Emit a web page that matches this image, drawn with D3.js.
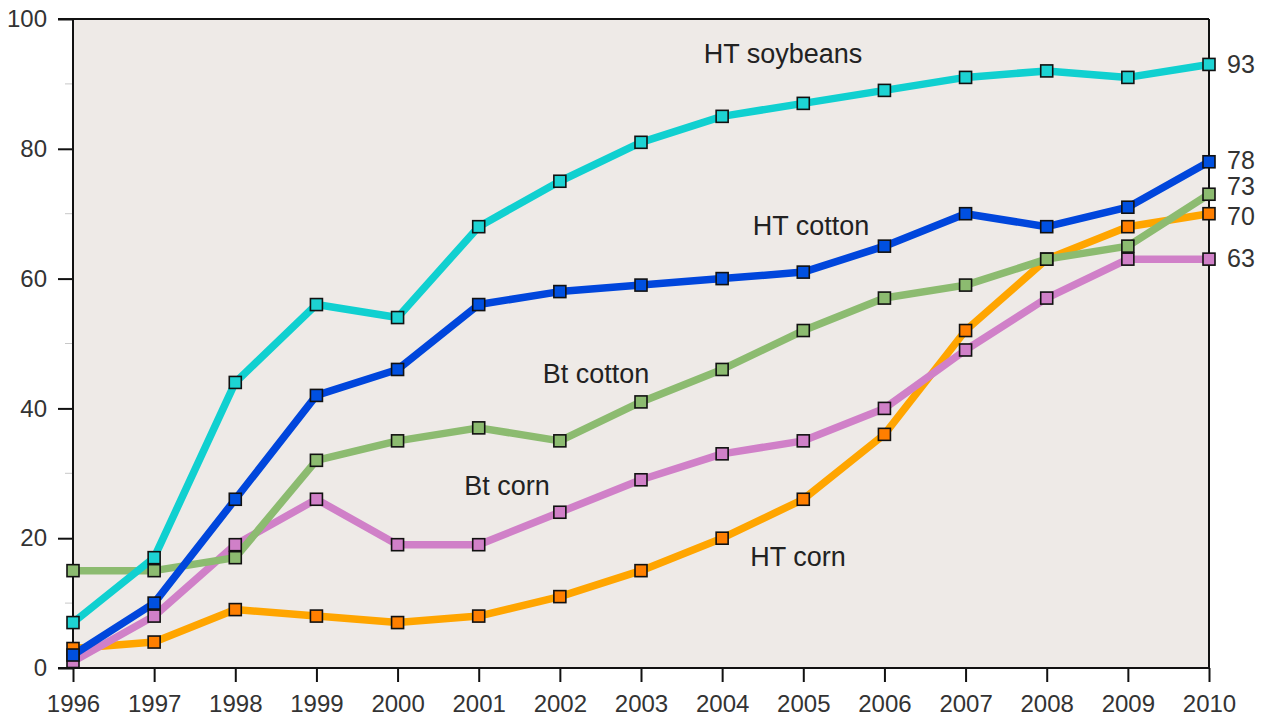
<!DOCTYPE html>
<html><head><meta charset="utf-8">
<script src="https://cdn.jsdelivr.net/npm/d3@7"></script>
<style>body{margin:0;background:#fff;} text{font-family:"Liberation Sans",Arial,sans-serif;}</style>
</head><body><svg id="c" width="1266" height="717"></svg>
<script>
const years = [1996,1997,1998,1999,2000,2001,2002,2003,2004,2005,2006,2007,2008,2009,2010];
const htCorn     = [3,4,9,8,7,8,11,15,20,26,36,52,63,68,70];
const btCorn     = [1,8,19,26,19,19,24,29,33,35,40,49,57,63,63];
const btCotton   = [15,15,17,32,35,37,35,41,46,52,57,59,63,65,73];
const htCotton   = [2,10,26,42,46,56,58,59,60,61,65,70,68,71,78];
const htSoybeans = [7,17,44,56,54,68,75,81,85,87,89,91,92,91,93];
const seriesNames = ["HT corn","Bt corn","Bt cotton","HT cotton","HT soybeans"];
const lineColors = ["#ffa500","#d080c8","#8cbb70","#0046dc","#10d0d0"];
const markColors = ["#ff7f00","#d080c8","#8cbb70","#0050e0","#1dd3d3"];
const yTicks = [0,20,40,60,80,100];
const yMinor = [10,30,50,70,90];
const labelPos = [[798,559],[507,488],[596,376],[811,228],[783,56]];

const svg = d3.select("#c");
const x = d3.scaleLinear().domain([1996,2010]).range([73,1209]);
const y = d3.scaleLinear().domain([0,100]).range([668,19]);
const data = [htCorn,btCorn,btCotton,htCotton,htSoybeans];

svg.append("rect").attr("x",73).attr("y",19).attr("width",1136).attr("height",649).attr("fill","#eeeae7");

svg.selectAll(".mn").data(yMinor).join("line").attr("x1",65).attr("x2",73)
  .attr("y1",d=>y(d)).attr("y2",d=>y(d)).attr("stroke","#c8c8c8").attr("stroke-width",1);

const yAxis = svg.append("g").attr("transform","translate(73,0)")
  .call(d3.axisLeft(y).tickValues(yTicks).tickSize(15).tickPadding(11));
yAxis.select(".domain").remove();
yAxis.selectAll("line").attr("stroke","#111").attr("stroke-width",2);
yAxis.selectAll("text").attr("font-size",24).attr("fill","#333").attr("font-family","Liberation Sans, Arial, sans-serif");

const xAxis = svg.append("g").attr("transform","translate(0,668)")
  .call(d3.axisBottom(x).tickValues(years).tickFormat(d3.format("d")).tickSize(14).tickPadding(13));
xAxis.select(".domain").remove();
xAxis.selectAll("line").attr("stroke","#111").attr("stroke-width",2);
xAxis.selectAll("text").attr("font-size",24).attr("fill","#333").attr("font-family","Liberation Sans, Arial, sans-serif");

svg.append("line").attr("x1",58).attr("x2",1209).attr("y1",19).attr("y2",19).attr("stroke","#111").attr("stroke-width",2);
svg.append("line").attr("x1",58).attr("x2",1209).attr("y1",668).attr("y2",668).attr("stroke","#111").attr("stroke-width",2);
svg.append("line").attr("x1",73).attr("x2",73).attr("y1",19).attr("y2",668).attr("stroke","#111").attr("stroke-width",2);
svg.append("line").attr("x1",1209).attr("x2",1209).attr("y1",19).attr("y2",668).attr("stroke","#111").attr("stroke-width",2);

const line = d3.line().x((d,i)=>x(years[i])).y(d=>y(d));
data.forEach((s,k)=>{
  svg.append("path").datum(s).attr("d",line).attr("fill","none")
    .attr("stroke",lineColors[k]).attr("stroke-width",7.5).attr("stroke-linejoin","round");
});
data.forEach((s,k)=>{
  svg.selectAll(".m"+k).data(s).join("rect")
    .attr("x",(d,i)=>x(years[i])-6).attr("y",d=>y(d)-6).attr("width",12).attr("height",12)
    .attr("fill",markColors[k]).attr("stroke","#111").attr("stroke-width",1.6);
});

seriesNames.forEach((n,k)=>{
  svg.append("text").attr("x",labelPos[k][0]).attr("y",labelPos[k][1]).attr("text-anchor","middle")
    .attr("dominant-baseline","middle").attr("font-size",27).attr("fill","#222").text(n);
});
const endLabelY = [218,260,188,162,66];
data.forEach((s,k)=>{
  svg.append("text").attr("x",1227).attr("y",endLabelY[k]).attr("dominant-baseline","middle")
    .attr("font-size",25).attr("fill","#333").text(s[s.length-1]);
});
</script></body></html>
